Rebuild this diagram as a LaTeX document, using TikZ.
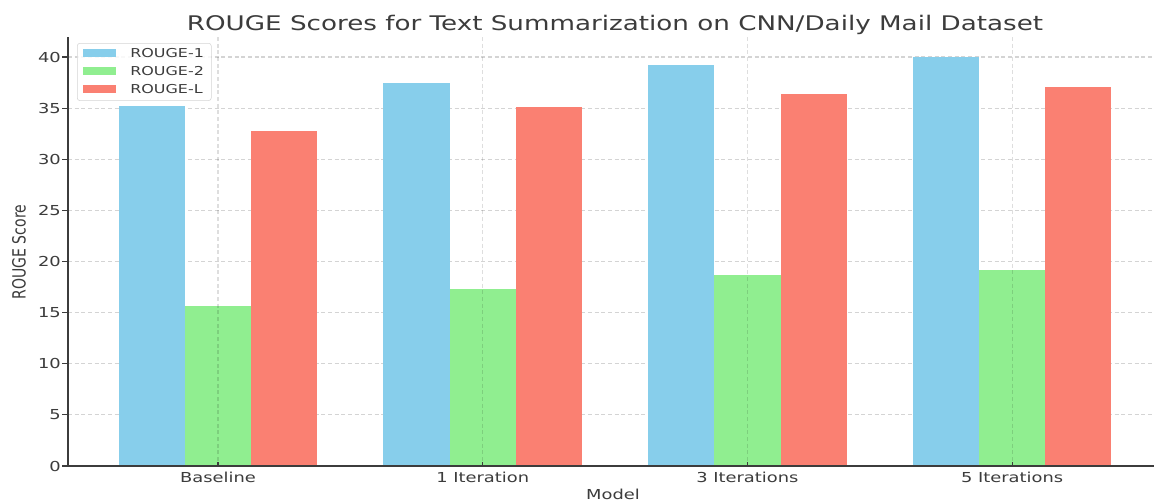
\documentclass[tikz,border=0pt]{standalone}
\usepackage{fontspec}
\setmainfont{DejaVu Sans}[FakeStretch=1.3]
\newfontfamily\plainsans{DejaVu Sans}
\usepackage{tikz}
\usetikzlibrary{calc}
\definecolor{skyblue}{HTML}{87CEEB}
\definecolor{lightgreen}{HTML}{90EE90}
\definecolor{salmon}{HTML}{FA8072}
\definecolor{inkgray}{HTML}{3C3C3C}
\definecolor{gridgray}{HTML}{D4D4D4}

\begin{document}
\begin{tikzpicture}[
		x=0.75pt, y=-0.75pt,
		every node/.style={text=inkgray, inner sep=0pt},
		gridline/.style={gridgray, line width=0.8pt, dash pattern=on 3pt off 2pt},
		spine/.style={inkgray, line width=1.1pt},
		ticklabel/.style={font=\fontsize{10.3}{12}\selectfont},
		legendtext/.style={font=\fontsize{9.2}{11}\selectfont, anchor=west}
	]
	\useasboundingbox (0,0) rectangle (1154,501);
	\fill[white] (0,0) rectangle (1154,501);
	% horizontal grid and y ticks
	\foreach \v in {0,5,...,40} {
			\coordinate (gy\v) at (68,{466-10.225*\v});
			\draw[gridline] (gy\v) -- (1154,{466-10.225*\v});
			\draw[spine, line width=0.8pt] (gy\v) -- ++(-6,0);
			\node[ticklabel, anchor=east] (yt\v) at (61,{466-10.225*\v}) {\v};
		}
	% bars
	\foreach \i/\a/\b/\c/\name in {0/35.2/15.6/32.8/Baseline, 1/37.5/17.3/35.1/1 Iteration,
			2/39.2/18.7/36.4/3 Iterations, 3/40.0/19.2/37.1/5 Iterations} {
			\pgfmathsetmacro\xc{218+264.7*\i}
			\fill[skyblue] ({\xc-99.3},466) rectangle ({\xc-33.1},{466-10.225*\a});
			\fill[lightgreen] ({\xc-33.1},466) rectangle ({\xc+33.1},{466-10.225*\b});
			\fill[salmon] ({\xc+33.1},466) rectangle ({\xc+99.3},{466-10.225*\c});
			\draw[gridline, black, opacity=0.13] (\xc,37) -- (\xc,466);
			\draw[spine, line width=0.8pt] (\xc,466) -- ++(0,-4);
			\node[ticklabel, anchor=base] (xt\i) at (\xc,482) {\name};
		}
	% axes
	\coordinate (origin) at (68,466);
	\draw[spine] (68,37) -- (origin) -- (1154,466);
	% legend
	\node[draw=gridgray, fill=white, fill opacity=0.85, rounded corners=2pt,
		minimum width=100.5pt, minimum height=43pt, anchor=north west] (legend) at (77,43) {};
	\foreach \k/\col/\lab in {0/skyblue/ROUGE-1, 1/lightgreen/ROUGE-2, 2/salmon/ROUGE-L} {
			\fill[\col] (83,{49+18*\k}) rectangle (116,{57+18*\k});
			\node[legendtext] (leg\k) at (130,{53+18*\k}) {\lab};
		}
	% labels
	\node[font=\fontsize{15.1}{18}\selectfont, anchor=base] (title) at (615,30)
	{ROUGE Scores for Text Summarization on CNN/Daily Mail Dataset};
	\node[font=\fontsize{10.3}{12}\selectfont, anchor=base] (xlabel) at (613,499) {Model};
	\node[rotate=90, font=\plainsans\fontsize{10.5}{12}\selectfont] (ylabel) at (19,252)
	{\scalebox{1}[1.3]{ROUGE Score}};
\end{tikzpicture}
\end{document}
